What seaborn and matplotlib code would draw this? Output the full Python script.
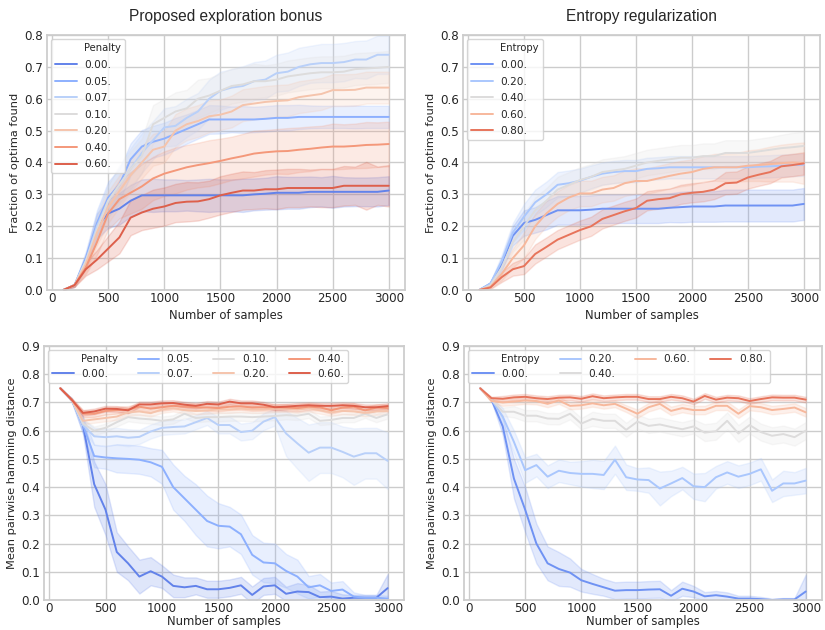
import numpy as np
import pandas as pd
import seaborn as sns
import matplotlib
matplotlib.use("Agg")
import matplotlib.pyplot as plt
from matplotlib.lines import Line2D

sns.set_theme(style="whitegrid")
plt.rcParams['font.family'] = ['DejaVu Sans']

# ---------------- data ----------------
samples = [100, 200, 300, 400, 500, 600, 700, 800, 900, 1000,
           1100, 1200, 1300, 1400, 1500, 1600, 1700, 1800, 1900, 2000,
           2100, 2200, 2300, 2400, 2500, 2600, 2700, 2800, 2900, 3000]

penalty_labels = ["0.00.", "0.05.", "0.07.", "0.10.", "0.20.", "0.40.", "0.60."]
entropy_labels = ["0.00.", "0.20.", "0.40.", "0.60.", "0.80."]

# Top-left: fraction of optima found, proposed exploration bonus (mean)
frac_pen_000 = [0, .015, .09, .20, .24, .255, .28, .297, .297, .297, .297, .297, .297, .297, .297, .297, .297, .30, .302, .305, .305, .305, .308, .308, .308, .308, .308, .308, .308, .312]
frac_pen_005 = [0, .015, .10, .21, .29, .33, .41, .45, .465, .475, .49, .505, .52, .535, .535, .535, .535, .535, .537, .54, .54, .543, .543, .543, .543, .543, .543, .543, .543, .543]
frac_pen_007 = [0, .015, .09, .20, .28, .33, .38, .43, .47, .51, .515, .54, .56, .60, .625, .635, .64, .655, .66, .68, .685, .70, .708, .712, .712, .715, .723, .723, .738, .738]
frac_pen_010 = [0, .015, .09, .19, .28, .33, .38, .42, .52, .54, .56, .57, .60, .61, .625, .64, .645, .655, .655, .66, .67, .675, .68, .683, .683, .685, .693, .695, .697, .70]
frac_pen_020 = [0, .015, .08, .18, .26, .31, .36, .40, .44, .45, .50, .52, .53, .545, .55, .56, .58, .585, .59, .593, .595, .605, .61, .615, .627, .627, .628, .635, .635, .635]
frac_pen_040 = [0, .015, .07, .15, .24, .285, .305, .325, .35, .365, .375, .385, .392, .398, .405, .413, .42, .428, .432, .435, .436, .44, .443, .447, .45, .45, .452, .455, .456, .458]
frac_pen_060 = [0, .015, .065, .095, .13, .165, .227, .243, .255, .262, .273, .277, .278, .285, .297, .305, .312, .312, .316, .316, .32, .32, .32, .32, .32, .327, .327, .327, .327, .327]

# band half-widths
frac_pen_000_sd = [0, .005, .02, .04, .045, .05, .05, .05, .052, .05, .05, .048, .05, .052, .05, .05, .052, .05, .05, .052, .05, .05, .048, .046, .05, .046, .045, .045, .046, .045]
frac_pen_005_sd = [0, .005, .02, .04, .05, .05, .05, .052, .05, .05, .05, .046, .045, .045, .044, .04, .042, .04, .04, .04, .04, .038, .036, .035, .035, .035, .036, .035, .035, .035]
frac_pen_007_sd = [0, .005, .02, .04, .05, .06, .065, .062, .06, .06, .062, .06, .058, .06, .06, .058, .062, .06, .06, .058, .06, .06, .058, .06, .06, .06, .058, .06, .06, .06]
frac_pen_010_sd = [0, .005, .02, .04, .05, .055, .055, .055, .06, .06, .06, .058, .06, .055, .055, .055, .054, .055, .05, .05, .05, .05, .05, .05, .05, .05, .05, .05, .05, .05]
frac_pen_020_sd = [0, .005, .02, .04, .05, .05, .052, .05, .05, .05, .052, .05, .05, .05, .048, .05, .05, .05, .05, .05, .05, .05, .05, .05, .05, .05, .05, .05, .05, .05]
frac_pen_040_sd = [0, .005, .02, .04, .05, .06, .065, .07, .068, .07, .072, .07, .07, .072, .07, .068, .07, .072, .07, .07, .072, .07, .07, .068, .072, .07, .07, .072, .07, .07]
frac_pen_060_sd = [0, .005, .02, .03, .04, .05, .055, .055, .06, .06, .06, .062, .06, .058, .06, .06, .06, .058, .06, .062, .06, .06, .058, .06, .06, .062, .06, .075, .06, .065]

# Top-right: fraction of optima found, entropy regularization (mean)
frac_ent_000 = [0, .02, .08, .17, .21, .22, .235, .25, .25, .25, .252, .255, .255, .255, .255, .255, .255, .258, .26, .262, .262, .262, .265, .265, .265, .265, .265, .265, .265, .27]
frac_ent_020 = [0, .02, .09, .18, .23, .275, .30, .33, .335, .343, .355, .365, .37, .373, .373, .38, .382, .385, .385, .385, .385, .385, .385, .385, .385, .387, .388, .39, .392, .393]
frac_ent_040 = [0, .015, .07, .15, .20, .25, .28, .315, .33, .345, .355, .37, .375, .38, .39, .40, .405, .41, .415, .415, .42, .42, .43, .43, .43, .435, .44, .445, .448, .452]
frac_ent_060 = [0, .01, .05, .10, .14, .20, .24, .27, .29, .303, .303, .315, .32, .335, .342, .342, .35, .358, .365, .37, .38, .385, .385, .385, .39, .392, .395, .398, .40, .398]
frac_ent_080 = [0, .008, .04, .065, .075, .113, .135, .158, .173, .188, .20, .223, .235, .247, .257, .28, .285, .288, .30, .305, .308, .315, .335, .337, .353, .362, .37, .388, .392, .397]

frac_ent_000_sd = [0, .005, .02, .03, .04, .04, .045, .045, .045, .045, .045, .045, .045, .045, .045, .045, .045, .045, .048, .048, .048, .048, .05, .05, .05, .05, .05, .05, .05, .05]
frac_ent_020_sd = [0, .005, .02, .03, .04, .04, .04, .04, .04, .038, .036, .035, .035, .035, .035, .035, .035, .035, .035, .035, .035, .035, .035, .035, .035, .035, .035, .035, .035, .035]
frac_ent_040_sd = [0, .005, .02, .03, .04, .04, .04, .04, .04, .04, .04, .04, .04, .04, .04, .04, .04, .04, .04, .04, .04, .04, .04, .04, .04, .04, .04, .042, .045, .045]
frac_ent_060_sd = [0, .005, .02, .03, .04, .04, .04, .04, .04, .04, .04, .04, .04, .04, .04, .04, .04, .04, .04, .04, .04, .042, .044, .045, .048, .05, .055, .058, .06, .065]
frac_ent_080_sd = [0, .005, .015, .02, .025, .03, .03, .03, .03, .03, .03, .03, .03, .03, .03, .03, .03, .03, .03, .03, .03, .03, .035, .035, .035, .035, .035, .035, .035, .035]

# Bottom-left: mean pairwise hamming distance, proposed exploration bonus
ham_pen_000 = [.75, .71, .62, .41, .32, .17, .13, .083, .102, .083, .05, .045, .05, .038, .038, .043, .052, .018, .048, .052, .022, .03, .028, .01, .012, .005, .008, .008, .008, .042]
ham_pen_005 = [.75, .71, .62, .51, .505, .502, .50, .497, .488, .472, .40, .36, .32, .28, .263, .26, .233, .16, .133, .13, .103, .083, .045, .052, .032, .037, .012, .008, .008, .005]
ham_pen_007 = [.75, .71, .62, .58, .577, .58, .575, .578, .597, .61, .613, .615, .63, .645, .62, .62, .595, .60, .632, .648, .59, .555, .522, .54, .54, .525, .508, .52, .52, .493]
ham_pen_010 = [.75, .71, .625, .60, .61, .63, .648, .643, .64, .635, .64, .66, .645, .648, .648, .65, .65, .648, .65, .652, .655, .653, .66, .635, .638, .645, .645, .66, .645, .658]
ham_pen_020 = [.75, .71, .635, .64, .645, .65, .665, .668, .662, .675, .68, .673, .67, .672, .675, .675, .678, .675, .675, .678, .678, .675, .68, .672, .665, .67, .668, .663, .668, .67]
ham_pen_040 = [.75, .71, .66, .66, .67, .673, .675, .685, .678, .683, .688, .685, .683, .682, .68, .685, .686, .682, .683, .683, .682, .68, .685, .683, .672, .682, .685, .672, .682, .68]
ham_pen_060 = [.75, .71, .663, .668, .678, .677, .672, .693, .693, .697, .698, .692, .688, .695, .693, .703, .697, .697, .692, .683, .685, .688, .69, .688, .688, .69, .688, .683, .683, .687]

ham_pen_000_sd = [0, .005, .03, .08, .09, .07, .06, .06, .05, .04, .04, .035, .03, .03, .03, .03, .03, .03, .03, .03, .025, .03, .025, .02, .02, .015, .01, .01, .01, .05]
ham_pen_005_sd = [0, .005, .03, .04, .04, .05, .05, .05, .05, .06, .08, .08, .09, .09, .08, .07, .07, .07, .07, .07, .06, .06, .04, .04, .03, .03, .015, .01, .01, .01]
ham_pen_007_sd = [0, .005, .02, .03, .03, .03, .03, .025, .025, .025, .025, .025, .025, .025, .03, .03, .03, .03, .03, .03, .08, .09, .10, .09, .09, .09, .10, .09, .09, .10]
ham_pen_010_sd = [0, .005, .015, .015, .015, .015, .015, .015, .015, .015, .015, .015, .015, .015, .015, .015, .015, .015, .015, .015, .015, .015, .015, .015, .015, .015, .015, .015, .015, .015]
ham_pen_020_sd = [0, .005, .012, .012, .012, .012, .012, .012, .012, .012, .012, .012, .012, .012, .012, .012, .012, .012, .012, .012, .012, .012, .012, .012, .012, .012, .012, .012, .012, .012]
ham_pen_040_sd = [0, .005, .012, .012, .012, .012, .012, .012, .012, .012, .012, .012, .012, .012, .012, .012, .012, .012, .012, .012, .012, .012, .012, .012, .012, .012, .012, .012, .012, .012]
ham_pen_060_sd = [0, .005, .01, .01, .01, .01, .01, .01, .01, .01, .01, .01, .01, .01, .01, .01, .01, .01, .01, .01, .01, .01, .01, .01, .01, .01, .01, .01, .01, .01]

# Bottom-right: mean pairwise hamming distance, entropy regularization
ham_ent_000 = [.75, .71, .615, .43, .32, .20, .13, .11, .097, .07, .057, .045, .033, .035, .035, .037, .038, .015, .04, .03, .013, .017, .012, .005, .005, .003, 0, .002, .002, .03]
ham_ent_020 = [.75, .71, .65, .56, .46, .478, .437, .458, .45, .447, .447, .443, .497, .435, .427, .425, .395, .413, .432, .403, .40, .435, .452, .437, .447, .463, .387, .413, .413, .423]
ham_ent_040 = [.75, .71, .667, .667, .653, .653, .643, .642, .66, .625, .642, .635, .635, .603, .632, .617, .622, .613, .605, .615, .593, .598, .635, .59, .62, .595, .582, .588, .577, .60]
ham_ent_060 = [.75, .705, .70, .703, .707, .705, .695, .707, .688, .69, .697, .69, .695, .678, .66, .683, .695, .67, .68, .673, .673, .688, .688, .66, .687, .683, .673, .677, .682, .665]
ham_ent_080 = [.75, .715, .713, .718, .72, .715, .712, .717, .718, .713, .722, .715, .718, .72, .72, .712, .712, .72, .715, .703, .723, .71, .717, .715, .705, .712, .718, .717, .717, .71]

ham_ent_000_sd = [0, .005, .03, .07, .08, .07, .06, .06, .05, .04, .035, .03, .03, .03, .03, .03, .03, .02, .025, .02, .015, .015, .015, .01, .01, .008, .005, .005, .005, .06]
ham_ent_020_sd = [0, .005, .03, .04, .045, .04, .04, .04, .04, .045, .05, .05, .05, .045, .04, .045, .06, .045, .04, .045, .05, .04, .04, .04, .04, .04, .04, .045, .04, .045]
ham_ent_040_sd = [0, .005, .015, .02, .02, .02, .02, .02, .02, .02, .025, .025, .025, .025, .025, .025, .025, .025, .025, .025, .03, .03, .03, .03, .03, .03, .03, .03, .03, .03]
ham_ent_060_sd = [0, .005, .012, .012, .012, .012, .012, .012, .012, .012, .012, .012, .012, .012, .015, .015, .015, .015, .015, .015, .015, .015, .015, .015, .015, .015, .015, .015, .015, .015]
ham_ent_080_sd = [0, .005, .01, .01, .01, .01, .01, .01, .01, .01, .01, .01, .01, .01, .01, .01, .01, .01, .01, .01, .01, .01, .01, .01, .01, .01, .01, .01, .01, .01]

panels = [
    dict(title="Proposed exploration bonus", hue="Penalty", labels=penalty_labels,
         means=[frac_pen_000, frac_pen_005, frac_pen_007, frac_pen_010, frac_pen_020, frac_pen_040, frac_pen_060],
         sds=[frac_pen_000_sd, frac_pen_005_sd, frac_pen_007_sd, frac_pen_010_sd, frac_pen_020_sd, frac_pen_040_sd, frac_pen_060_sd],
         ylabel="Fraction of optima found", ylim=(0, 0.8), ncol=1,
         rect=(47, 35, 405, 290), xlpad=2.5),
    dict(title="Entropy regularization", hue="Entropy", labels=entropy_labels,
         means=[frac_ent_000, frac_ent_020, frac_ent_040, frac_ent_060, frac_ent_080],
         sds=[frac_ent_000_sd, frac_ent_020_sd, frac_ent_040_sd, frac_ent_060_sd, frac_ent_080_sd],
         ylabel="Fraction of optima found", ylim=(0, 0.8), ncol=1,
         rect=(463, 35, 820, 290), xlpad=2.5),
    dict(title=None, hue="Penalty", labels=penalty_labels,
         means=[ham_pen_000, ham_pen_005, ham_pen_007, ham_pen_010, ham_pen_020, ham_pen_040, ham_pen_060],
         sds=[ham_pen_000_sd, ham_pen_005_sd, ham_pen_007_sd, ham_pen_010_sd, ham_pen_020_sd, ham_pen_040_sd, ham_pen_060_sd],
         ylabel="Mean pairwise hamming distance", ylim=(0, 0.9), ncol=4,
         rect=(44, 346, 404, 600), xlpad=0),
    dict(title=None, hue="Entropy", labels=entropy_labels,
         means=[ham_ent_000, ham_ent_020, ham_ent_040, ham_ent_060, ham_ent_080],
         sds=[ham_ent_000_sd, ham_ent_020_sd, ham_ent_040_sd, ham_ent_060_sd, ham_ent_080_sd],
         ylabel="Mean pairwise hamming distance", ylim=(0, 0.9), ncol=4,
         rect=(464, 346, 822, 600), xlpad=0),
]

W, H = 825, 630
fig = plt.figure(figsize=(W / 100, H / 100), dpi=100)

for p in panels:
    l, t, r, b = p["rect"]
    ax = fig.add_axes([l / W, 1 - b / H, (r - l) / W, (b - t) / H])
    rows = []
    for lab, m, s in zip(p["labels"], p["means"], p["sds"]):
        for x, mv, sv in zip(samples, m, s):
            rows.append((x, mv - sv, lab))
            rows.append((x, mv, lab))
            rows.append((x, mv + sv, lab))
    df = pd.DataFrame(rows, columns=["x", "y", "hue"])
    pal = sns.color_palette("coolwarm", len(p["labels"]))
    sns.lineplot(data=df, x="x", y="y", hue="hue", hue_order=p["labels"],
                 palette=pal, errorbar=("pi", 100), estimator="mean",
                 linewidth=1.4, legend=False, ax=ax)
    ax.set_ylim(*p["ylim"])
    ax.set_xticks([0, 500, 1000, 1500, 2000, 2500, 3000])
    yt = np.arange(0, p["ylim"][1] + 0.01, 0.1)
    ax.set_yticks(yt)
    ax.set_yticklabels([f"{v:.1f}" for v in yt])
    ax.tick_params(axis="y", labelsize=8.6, length=0, pad=3)
    ax.tick_params(axis="x", labelsize=8.6, length=0, pad=1.5)
    ax.set_xlabel("Number of samples", fontsize=8.4, labelpad=p["xlpad"])
    ax.set_ylabel(p["ylabel"], fontsize=8.2, labelpad=3)
    for sp in ax.spines.values():
        sp.set_color("#cccccc")
    if p["title"]:
        ax.set_title(p["title"], fontsize=11.2, pad=10, family="Liberation Sans")

    handles = [Line2D([], [], color="none")]
    labs = [p["hue"]]
    for c, lab in zip(pal, p["labels"]):
        handles.append(Line2D([], [], color=c, linewidth=1.4))
        labs.append(lab)
    leg = ax.legend(handles, labs, loc="upper left", ncol=p["ncol"], fontsize=7.6,
                    handlelength=2.0, handletextpad=0.7,
                    labelspacing=0.62 if p["ncol"] == 1 else 0.45,
                    borderaxespad=0.4, columnspacing=1.9, frameon=True)
    leg.get_texts()[0].set_fontsize(7.2)

fig.savefig("out.png", dpi=100)
